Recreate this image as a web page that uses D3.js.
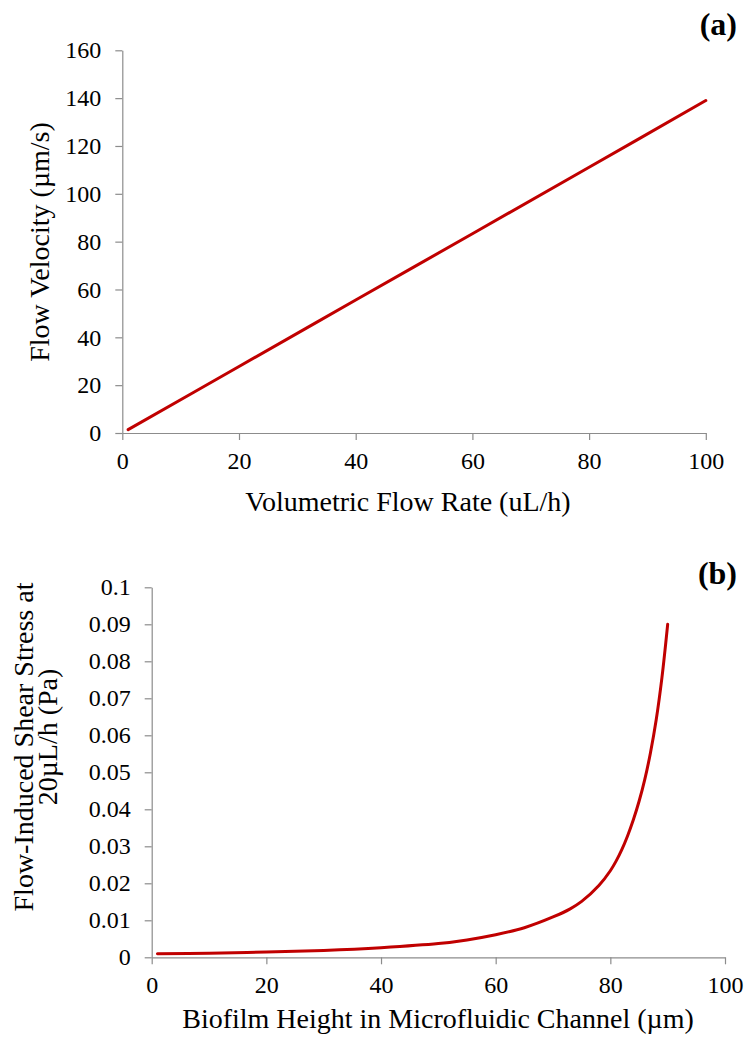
<!DOCTYPE html>
<html>
<head>
<meta charset="utf-8">
<script src="https://cdn.jsdelivr.net/npm/d3@7"></script>
<style>
    body { margin: 0; background: #fff; }
    svg { display: block; }
    text { font-family: "Liberation Serif", "Times New Roman", serif; fill: #000; }
</style>
</head>
<body>
<svg id="chart" width="746" height="1038"></svg>
<script>
// panel (a): flow velocity vs volumetric flow rate
const flowRate = [1, 20, 40, 60, 80, 100];
const flowVelocity = [1.4, 27.8, 55.6, 83.3, 111.1, 139.0];
const xTicksA = [0, 20, 40, 60, 80, 100];
const yTicksA = [0, 20, 40, 60, 80, 100, 120, 140, 160];

// panel (b): shear stress vs biofilm height
const biofilmHeight = [1, 10, 20, 30, 40, 50, 55, 60, 65, 70, 73, 75, 78, 80, 81, 82, 83, 84, 85, 86, 87, 88, 89, 90];
const shearStress = [0.00095, 0.00112, 0.00142, 0.00187, 0.0026, 0.0037, 0.0047, 0.0061, 0.0080, 0.0109, 0.0131, 0.0151,
    0.0194, 0.0234, 0.0260, 0.0291, 0.0328, 0.0371, 0.0421, 0.0480, 0.0553, 0.0642, 0.0756, 0.0900];
const xTicksB = [0, 20, 40, 60, 80, 100];
const yTicksB = [0, 0.01, 0.02, 0.03, 0.04, 0.05, 0.06, 0.07, 0.08, 0.09, 0.1];

const svg = d3.select('#chart');

const AXIS_COLOR = '#8c8c8c';
const LINE_COLOR = '#c00000';
const TICK_FONT = 24;
const TITLE_FONT = 28;

function drawPanel(opt) {
    const g = svg.append('g');
    const x = d3.scaleLinear().domain([0, 100]).range([opt.left, opt.right]);
    const y = d3.scaleLinear().domain(opt.yDomain).range([opt.bottom, opt.top]);

    const xAxis = g.append('g')
        .attr('transform', `translate(0,${opt.bottom})`)
        .call(d3.axisBottom(x).tickValues(opt.xTicks).tickSize(7).tickSizeOuter(0).tickPadding(12));
    const yAxis = g.append('g')
        .attr('transform', `translate(${opt.left},0)`)
        .call(d3.axisLeft(y).tickValues(opt.yTicks).tickSize(7).tickSizeOuter(0).tickPadding(14)
            .tickFormat(d => d3.format('')(+d.toFixed(2))));

    [xAxis, yAxis].forEach(a => {
        a.select('.domain').attr('stroke', AXIS_COLOR).attr('stroke-width', 1.2);
        a.selectAll('.tick line').attr('stroke', AXIS_COLOR).attr('stroke-width', 1.2);
        a.selectAll('.tick text')
            .attr('font-size', TICK_FONT)
            .attr('font-family', '"Liberation Serif", serif')
            .attr('fill', '#000');
    });

    // smooth curve through the read points
    const line = d3.line()
        .x(d => x(d[0]))
        .y(d => y(d[1]))
        .curve(d3.curveCatmullRom.alpha(0.5));

    g.append('path')
        .datum(d3.zip(opt.xs, opt.ys))
        .attr('d', line)
        .attr('fill', 'none')
        .attr('stroke', LINE_COLOR)
        .attr('stroke-width', 3)
        .attr('stroke-linecap', 'round');

    g.append('text')
        .text(opt.xTitle)
        .attr('x', opt.xTitleX)
        .attr('y', opt.bottom + opt.xTitleGap)
        .attr('text-anchor', 'middle')
        .attr('font-size', TITLE_FONT);

    const yt = g.append('text')
        .attr('transform', `translate(${opt.yTitleX},${opt.yTitleY}) rotate(-90)`)
        .attr('text-anchor', 'middle')
        .attr('font-size', TITLE_FONT);
    opt.yTitle.forEach((s, i) => {
        yt.append('tspan')
            .attr('x', i === 0 ? 0 : opt.line2Shift)
            .attr('dy', i === 0 ? 0 : 24)
            .text(s);
    });

    g.append('text')
        .text(opt.label)
        .attr('x', 737)
        .attr('y', opt.labelY)
        .attr('text-anchor', 'end')
        .attr('font-size', 32)
        .attr('font-weight', 700);
}

drawPanel({
    left: 122.3, right: 705.8, top: 50.3, bottom: 433,
    yDomain: [0, 160],
    xTicks: xTicksA, yTicks: yTicksA,
    xs: flowRate, ys: flowVelocity,
    xTitle: 'Volumetric Flow Rate (uL/h)', xTitleX: 408, xTitleGap: 78,
    yTitle: ['Flow Velocity (µm/s)'], yTitleX: 49, yTitleY: 242,
    label: '(a)', labelY: 35
});

drawPanel({
    left: 151.7, right: 725, top: 587.3, bottom: 957.3,
    yDomain: [0, 0.1],
    xTicks: xTicksB, yTicks: yTicksB,
    xs: biofilmHeight, ys: shearStress,
    xTitle: 'Biofilm Height in Microfluidic Channel (µm)', xTitleX: 438, xTitleGap: 71,
    yTitle: ['Flow-Induced Shear Stress at', '20µL/h (Pa)'], yTitleX: 33, yTitleY: 747,
    line2Shift: 10,
    label: '(b)', labelY: 584
});
</script>
</body>
</html>
